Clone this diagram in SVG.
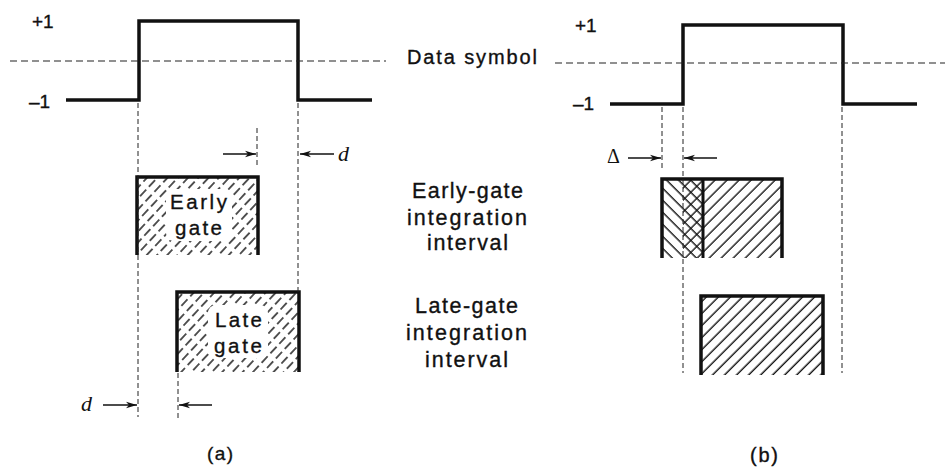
<svg xmlns="http://www.w3.org/2000/svg" width="945" height="468" viewBox="0 0 945 468">
  <style>
    .wave { fill: none; stroke: #111; stroke-width: 3.5; stroke-linejoin: miter; }
    .ref { stroke: #222; stroke-width: 1.2; stroke-dasharray: 7 4; fill: none; }
    .guide { stroke: #222; stroke-width: 1; stroke-dasharray: 5 3; fill: none; }
    .edge { fill: none; stroke: #111; stroke-width: 3.5; stroke-linejoin: miter; }
    .dim { stroke: #111; stroke-width: 1.4; fill: none; }
    .txt { font-family: "Liberation Sans", Arial, sans-serif; fill: #111; stroke: #111; stroke-width: 0.35; }
    .mid { font-size: 21.5px; }
    .lvl { font-size: 19px; }
    .sym { font-family: "Liberation Serif", "Times New Roman", serif; font-style: italic; font-size: 22px; fill: #111; }
    .delta { font-family: "Liberation Serif", "Times New Roman", serif; font-style: normal; font-size: 20px; fill: #111; }
    .hatch { stroke: #111; stroke-width: 1.4; }
  </style>
  <defs>
    <!-- broken forward hatching for panel (a) -->
    <pattern id="hatchBroken" patternUnits="userSpaceOnUse" width="7.5" height="13" patternTransform="rotate(43)">
      <line x1="3.75" y1="0" x2="3.75" y2="13" class="hatch" stroke-dasharray="9 4"/>
    </pattern>
    <!-- solid forward hatching "/" -->
    <pattern id="hatchFwd" patternUnits="userSpaceOnUse" width="8.5" height="8.5" patternTransform="rotate(45)">
      <line x1="4" y1="0" x2="4" y2="8.5" class="hatch"/>
    </pattern>
    <!-- solid back hatching "\" -->
    <pattern id="hatchBack" patternUnits="userSpaceOnUse" width="8.5" height="8.5" patternTransform="rotate(-45)">
      <line x1="4" y1="0" x2="4" y2="8.5" class="hatch"/>
    </pattern>
    <marker id="head" markerUnits="userSpaceOnUse" markerWidth="12" markerHeight="8" refX="11" refY="4" orient="auto">
      <path d="M0,0.8 L11,4 L0,7.2 L3,4 Z" fill="#111"/>
    </marker>
  </defs>

  <!-- panel (a): data symbol waveform -->
  <g id="wave-a">
    <polyline class="wave" points="66,100 139,100 139,21 298,21 298,100 372,100"/>
    <text class="txt lvl" x="32" y="28">+1</text>
    <text class="txt lvl" x="29" y="108">–1</text>
  </g>

  <!-- panel (b): data symbol waveform -->
  <g id="wave-b">
    <polyline class="wave" points="610,104 683,104 683,25 843,25 843,104 917,104"/>
    <text class="txt lvl" x="575" y="32">+1</text>
    <text class="txt lvl" x="573" y="110">–1</text>
  </g>

  <!-- panel (a): early gate -->
  <g id="early-gate-a">
    <rect x="137" y="177" width="121" height="78" fill="url(#hatchBroken)"/>
    <rect x="166" y="189" width="66" height="52" rx="8" fill="#fff"/>
    <path class="edge" d="M137,255 V177 H258 V255"/>
    <text class="txt" font-size="20.5" x="170" y="209" textLength="57">Early</text>
    <text class="txt" font-size="20.5" x="175" y="235" textLength="47">gate</text>
  </g>

  <!-- panel (a): late gate -->
  <g id="late-gate-a">
    <rect x="177" y="292" width="122" height="80" fill="url(#hatchBroken)"/>
    <rect x="208" y="305" width="60" height="53" rx="8" fill="#fff"/>
    <path class="edge" d="M177,372 V292 H299 V372"/>
    <text class="txt" font-size="20.5" x="215" y="327" textLength="47">Late</text>
    <text class="txt" font-size="20.5" x="214" y="353" textLength="48">gate</text>
  </g>

  <!-- panel (b): early gate, overlapping the late gate by delta -->
  <g id="early-gate-b">
    <rect x="683" y="179" width="99" height="79" fill="url(#hatchFwd)"/>
    <rect x="662" y="179" width="41" height="79" fill="url(#hatchBack)"/>
    <line x1="703" y1="179" x2="703" y2="258" stroke="#111" stroke-width="3"/>
    <path class="edge" d="M662,258 V179 H782 V258"/>
  </g>

  <!-- panel (b): late gate -->
  <g id="late-gate-b">
    <rect x="701" y="296" width="122" height="79" fill="url(#hatchFwd)"/>
    <path class="edge" d="M701,375 V296 H823 V375"/>
  </g>

  <!-- centre labels -->
  <g id="label-data">
    <text class="txt" font-size="20" x="407" y="64" textLength="130">Data symbol</text>
  </g>
  <g id="label-early">
    <text class="txt mid" x="412" y="198" textLength="111">Early-gate</text>
    <text class="txt mid" x="407" y="225" textLength="120">integration</text>
    <text class="txt mid" x="427" y="250" textLength="81">interval</text>
  </g>
  <g id="label-late">
    <text class="txt mid" x="415" y="313" textLength="103">Late-gate</text>
    <text class="txt mid" x="406" y="340" textLength="121">integration</text>
    <text class="txt mid" x="425" y="367" textLength="83">interval</text>
  </g>

  <g id="caption-a">
    <text class="txt" font-size="19" x="207" y="460" textLength="26">(a)</text>
  </g>
  <g id="caption-b">
    <text class="txt" font-size="20" x="750" y="462" textLength="28">(b)</text>
  </g>

  <!-- connectors: reference level, projection guides and offset dimensions -->
  <g id="connectors">
    <line class="ref" x1="10" y1="61" x2="386" y2="61"/>
    <line class="ref" x1="555" y1="63" x2="945" y2="63"/>

    <line class="guide" x1="138" y1="103" x2="138" y2="417"/>
    <line class="guide" x1="298" y1="103" x2="298" y2="292"/>
    <line class="guide" x1="257" y1="128" x2="257" y2="168"/>
    <line class="guide" x1="178" y1="373" x2="178" y2="419"/>

    <line class="guide" x1="662" y1="107" x2="662" y2="168"/>
    <line class="guide" x1="683" y1="107" x2="683" y2="373"/>
    <line class="guide" x1="842" y1="107" x2="842" y2="373"/>

    <line class="dim" x1="223" y1="154" x2="256" y2="154" marker-end="url(#head)"/>
    <line class="dim" x1="334" y1="154" x2="300" y2="154" marker-end="url(#head)"/>
    <text class="sym" x="338" y="161">d</text>

    <line class="dim" x1="103" y1="405" x2="137" y2="405" marker-end="url(#head)"/>
    <line class="dim" x1="212" y1="405" x2="179" y2="405" marker-end="url(#head)"/>
    <text class="sym" x="81" y="411">d</text>

    <line class="dim" x1="628" y1="158" x2="661" y2="158" marker-end="url(#head)"/>
    <line class="dim" x1="717" y1="158" x2="684" y2="158" marker-end="url(#head)"/>
    <text class="delta" x="607" y="163">Δ</text>
  </g>
</svg>
